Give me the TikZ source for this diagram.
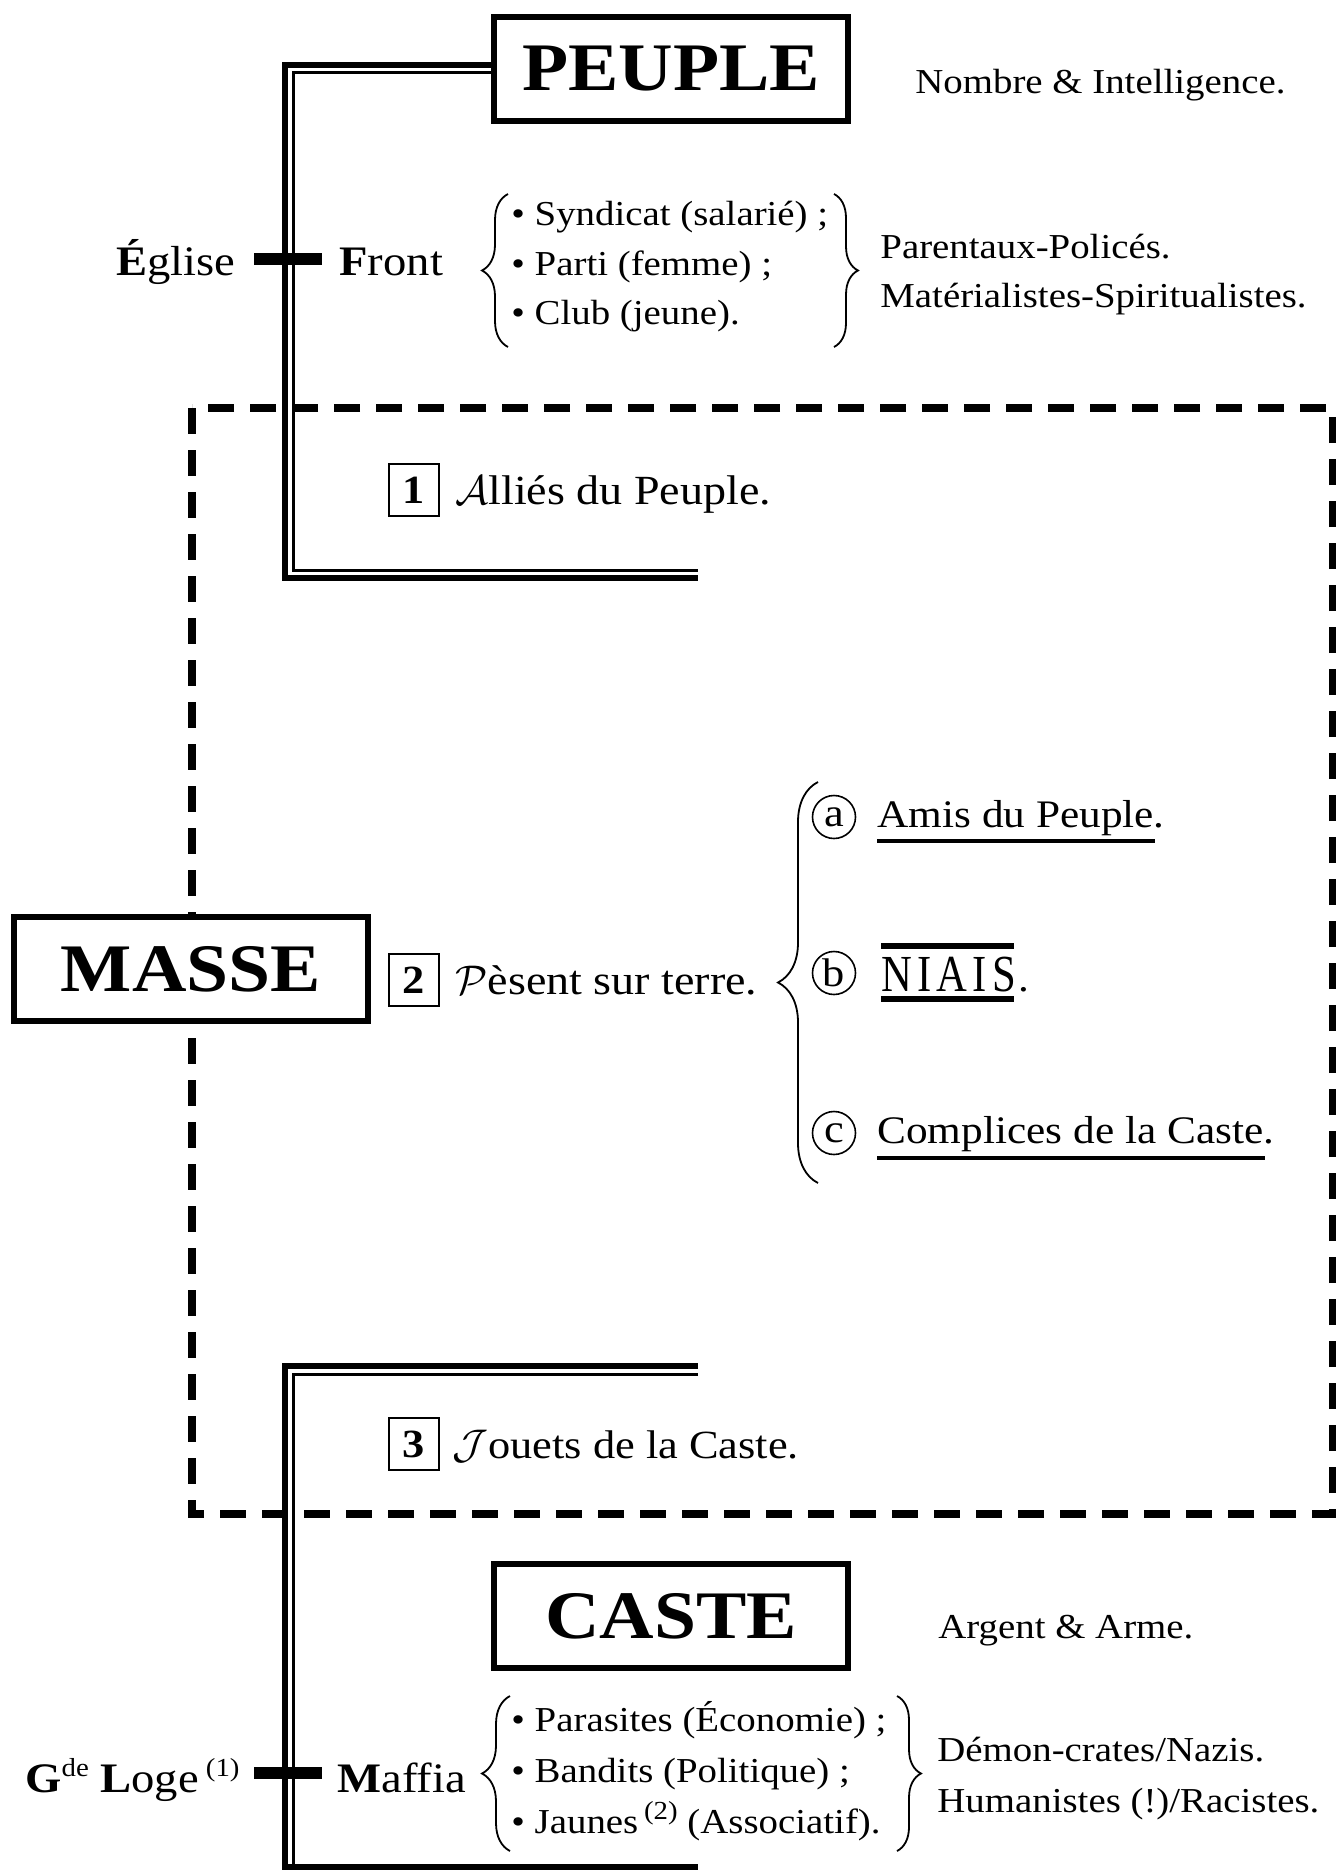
\documentclass[tikz,border=0pt]{standalone}
\usepackage{fontspec}
\setmainfont{Liberation Serif}[FakeStretch=1.11]
\newfontfamily\niaisfont{Liberation Serif}[FakeStretch=0.82,LetterSpace=10]
\usetikzlibrary{decorations.pathreplacing,calc}
\newcommand\mysupx[1]{\raisebox{0.38em}{\fontsize{13}{13}\selectfont #1}}
\begin{document}
\begin{tikzpicture}[x=0.5pt,y=-0.5pt,
  bigbox/.style={draw,line width=2.6pt,fill=white,minimum width=177pt,minimum height=52pt,inner sep=0pt,font=\fontsize{34}{36}\selectfont\bfseries},
  numbox/.style={draw,line width=1pt,minimum width=25pt,minimum height=26pt,inner sep=0pt,font=\fontsize{20}{22}\selectfont\bfseries},
  txt/.style={inner sep=0pt,anchor=base west,font=\fontsize{17.5}{20}\selectfont},
  midtxt/.style={inner sep=0pt,anchor=base west,font=\fontsize{20.74}{24}\selectfont},
  subtxt/.style={inner sep=0pt,anchor=base west,font=\fontsize{19.5}{23}\selectfont},
  niais/.style={inner sep=0pt,anchor=base west,font=\niaisfont\fontsize{26}{28}\selectfont},
  lbl/.style={inner sep=0pt,font=\fontsize{21}{24}\selectfont},
  circ/.style={draw,circle,line width=0.8pt,minimum size=21.5pt,inner sep=0pt,font=\fontsize{20}{22}\selectfont},
  thickrule/.style={line width=2.8pt},
  thinrule/.style={line width=1.5pt},
  dashframe/.style={line width=4pt,dash pattern=on 13pt off 8pt},
  bracestyle/.style={decorate,line width=0.9pt},
  ulinestyle/.style={line width=1.8pt},
  oline/.style={line width=3pt},
  bar/.style={line width=6pt}
]
\useasboundingbox (0,0) rectangle (1336,1872);

% dashed frame
\draw[dashframe] (192,408) rectangle (1333,1514);

% main boxes
\node[bigbox] (peuple) at (671,69) {PEUPLE};
\node[bigbox] (masse) at (191,969) {MASSE};
\node[bigbox] (caste) at (671,1616) {CASTE};

% top bracket (double rule)
\draw[thickrule] ($(peuple.west)+(0,-4)$) -| (285,578) -- (698,578);
\draw[thinrule] ($(peuple.west)+(0,4)$) -| (293,570) -- (698,570);

% bottom bracket (double rule)
\draw[thickrule] (698,1366) -- (285,1366) -- (285,1867) -- (698,1867);
\draw[thinrule] (698,1374) -- (293,1374) -- (293,1864);

% cross bars
\draw[bar] (254,259) -- (322,259);
\draw[bar] (254,1773) -- (322,1773);

% top texts
\node[txt] (nombre) at (915,94) {Nombre \& Intelligence.};
\node[lbl,anchor=base east] (eglise) at (236,276) {\textbf{É}glise};
\node[lbl,anchor=base west] (front) at (339,276) {\textbf{F}ront};
\node[txt] (syn) at (511,226) {• Syndicat (salarié) ;};
\node[txt] (parti) at (511,276) {• Parti (femme) ;};
\node[txt] (club) at (511,325) {• Club (jeune).};
\draw[bracestyle,decoration={brace,amplitude=13pt}] (508,347) -- (508,194);
\draw[bracestyle,decoration={brace,amplitude=12pt}] (834,194) -- (834,347);
\node[txt] (parent) at (880,259) {Parentaux-Policés.};
\node[txt] (mater) at (880,308) {Matérialistes-Spiritualistes.};

% section 1
\node[numbox] (n1) at (414,490) {1};
\node[midtxt] (allies) at (455,504) {$\mathcal{A}$lliés du Peuple.};

% section 2
\node[numbox] (n2) at (414,980) {2};
\node[midtxt] (pesent) at (455,994) {$\mathcal{P}$èsent sur terre.};
\draw[bracestyle,decoration={brace,amplitude=20pt}] (818,1183) -- (818,782);

\node[circ] (ca) at (834,817) {a};
\node[subtxt] (amis) at (877,827) {Amis du Peuple.};
\draw[ulinestyle] ($(amis.base west)+(0,14)$) -- ($(amis.base east)+(-10,14)$);

\node[circ] (cb) at (834,973) {b};
\node[niais] (niaisw) at (881,991) {NIAIS};
\node[subtxt] (niaisdot) at ($(niaisw.base east)+(2,0)$) {.};
\draw[oline] ($(niaisw.base west)+(0,-45)$) -- ($(niaisw.base east)+(-2,-45)$);
\draw[oline] ($(niaisw.base west)+(0,8)$) -- ($(niaisw.base east)+(-2,8)$);

\node[circ] (cc) at (834,1133) {c};
\node[subtxt] (compl) at (877,1143) {Complices de la Caste.};
\draw[ulinestyle] ($(compl.base west)+(0,15)$) -- ($(compl.base east)+(-10,15)$);

% section 3
\node[numbox] (n3) at (414,1444) {3};
\node[midtxt,font=\fontsize{20}{24}\selectfont] (jouets) at (452,1458) {$\mathcal{J}$ouets de la Caste.};

% bottom texts
\node[txt] (argent) at (938,1638) {Argent \& Arme.};
\node[lbl,anchor=base east] (loge) at (240,1792) {\textbf{G}\mysupx{de} \textbf{L}oge\,\mysupx{(1)}};
\node[lbl,anchor=base west] (maffia) at (337,1792) {\textbf{M}affia};
\node[txt] (paras) at (511,1731) {• Parasites (Économie) ;};
\node[txt] (band) at (511,1782) {• Bandits (Politique) ;};
\node[txt] (jaunes) at (511,1833) {• Jaunes\,\mysupx{(2)} (Associatif).};
\draw[bracestyle,decoration={brace,amplitude=14pt}] (510,1851) -- (510,1696);
\draw[bracestyle,decoration={brace,amplitude=12pt}] (897,1696) -- (897,1851);
\node[txt] (demon) at (937,1761) {Démon-crates/Nazis.};
\node[txt] (human) at (937,1812) {Humanistes (!)/Racistes.};
\end{tikzpicture}
\end{document}
